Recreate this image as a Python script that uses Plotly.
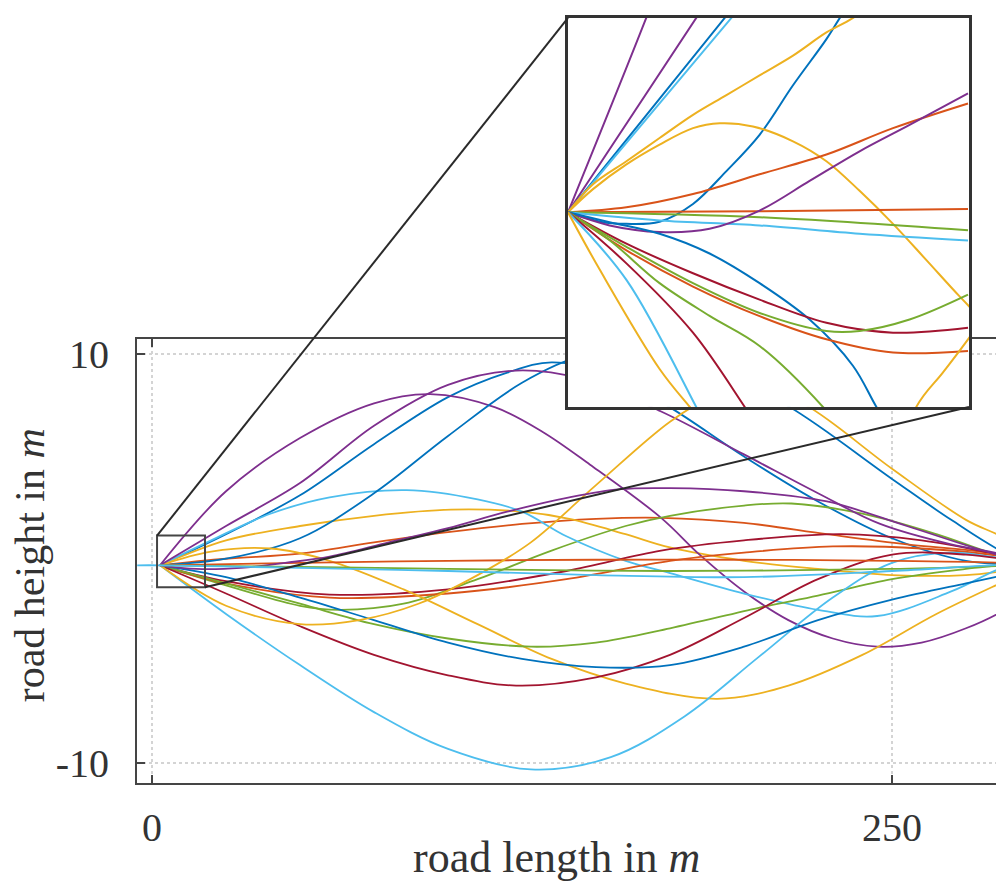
import plotly.graph_objects as go

# ---------------- colours (MATLAB default order) ----------------
BLUE = "#0072BD"
ORANGE = "#D95319"
YELLOW = "#EDB120"
PURPLE = "#7E2F8E"
GREEN = "#77AC30"
LIGHTBLUE = "#4DBEEE"
DARKRED = "#A2142F"

# ---------------- axis settings / labels ----------------
x_tick_vals = [0, 250]
x_tick_text = ["0", "250"]
y_tick_vals = [-10, 10]
y_tick_text = ["-10", "10"]
x_range = [-5.07, 287.84]
y_range = [-10.967, 10.76]
x_label = "road length in <i>m</i>"
y_label = "road height in <i>m</i>"

# zoom window (data coords of the small rectangle)
zoom_x = [1.7, 17.9]
zoom_y = [-1.39, 1.13]

# ---------------- main profiles (x in m, height in m) ----------------
purple1_x = [2.7, 25, 50, 75, 94, 116, 132, 148, 172, 185, 200, 215, 230, 245, 260, 275, 288, 300]
purple1_y = [-0.32, 3.3, 5.9, 7.6, 8.05, 7.4, 6.2, 4.6, 2.0, 0.2, -1.6, -3.0, -3.9, -4.3, -4.1, -3.4, -2.5, -1.2]

purple2_x = [2.7, 25, 50, 75, 100, 123, 145, 172, 200, 225, 246, 270, 288, 300]
purple2_y = [-0.32, 1.6, 3.7, 6.5, 8.5, 9.2, 8.8, 7.2, 5.1, 3.2, 1.7, 0.7, 0.2, -0.3]

purple3_x = [2.7, 15, 30, 45, 60, 80, 100, 120, 141, 158, 175, 200, 228, 255, 284, 300]
purple3_y = [-0.32, -0.5, -0.45, -0.2, 0.1, 0.8, 1.5, 2.3, 3.0, 3.4, 3.45, 3.3, 2.8, 1.6, 0.26, -0.3]

blue1_x = [2.7, 25, 50, 75, 100, 120, 135, 155, 175, 200, 225, 250, 275, 300]
blue1_y = [-0.32, 1.2, 3.1, 5.6, 7.9, 9.1, 9.6, 9.0, 7.4, 5.0, 2.8, 1.0, -0.1, -0.3]

blue2_x = [2.7, 25, 50, 75, 100, 125, 145, 165, 190, 215, 250, 270, 288, 300]
blue2_y = [-0.32, 0.0, 1.0, 3.2, 6.0, 8.6, 9.9, 10.1, 9.2, 7.45, 3.9, 1.9, 0.3, -0.3]

blue3_x = [2.7, 25, 50, 75, 100, 125, 150, 175, 200, 225, 250, 275, 288, 300]
blue3_y = [-0.32, -0.9, -1.9, -3.0, -4.1, -4.9, -5.3, -5.2, -4.3, -3.0, -2.0, -1.2, -0.8, -0.4]

lblue1_x = [2.7, 20, 40, 60, 86, 110, 125, 140, 160, 175, 200, 225, 245, 270, 288, 300]
lblue1_y = [-0.32, 0.9, 2.2, 3.0, 3.35, 2.9, 2.3, 1.1, -0.1, -0.7, -1.7, -2.5, -2.8, -1.6, -0.4, 0.0]

lblue2_x = [2.7, 25, 50, 75, 100, 128, 155, 180, 205, 230, 250, 270, 288, 300]
lblue2_y = [-0.32, -2.7, -5.2, -7.5, -9.3, -10.3, -9.7, -7.7, -4.8, -1.9, -0.2, 0.3, 0.0, -0.3]

lblue3_x = [-5, 2.7, 50, 100, 150, 200, 250, 288, 300]
lblue3_y = [-0.32, -0.32, -0.45, -0.6, -0.8, -0.9, -0.6, -0.3, -0.3]

yellow1_x = [2.7, 25, 50, 75, 101, 125, 141, 160, 175, 200, 225, 250, 275, 288, 300]
yellow1_y = [-0.32, 0.9, 1.6, 2.1, 2.4, 2.3, 1.95, 1.2, 0.55, -0.1, -0.5, -0.8, -0.8, -0.6, -0.3]

yellow2_x = [2.7, 20, 40, 60, 85, 110, 135, 160, 191, 215, 240, 265, 288, 300]
yellow2_y = [-0.32, 0.35, 0.5, -0.1, -1.5, -3.2, -4.9, -6.1, -6.85, -6.2, -4.7, -2.7, -1.1, -0.3]

yellow3_x = [2.7, 25, 50, 70, 90, 110, 128, 150, 175, 190, 203, 221, 250, 275, 288, 300]
yellow3_y = [-0.32, -2.3, -3.2, -3.0, -2.2, -0.8, 0.8, 3.6, 6.7, 8.0, 8.6, 7.5, 4.4, 1.9, 1.0, -0.3]

orange1_x = [2.7, 25, 50, 75, 100, 125, 150, 172, 200, 228, 255, 284, 300]
orange1_y = [-0.32, 0.0, 0.25, 0.8, 1.3, 1.7, 1.95, 2.0, 1.75, 1.2, 0.7, 0.26, -0.3]

orange2_x = [2.7, 25, 60, 100, 140, 175, 200, 230, 260, 288, 300]
orange2_y = [-0.32, -1.2, -1.9, -1.7, -1.0, -0.1, 0.3, 0.6, 0.5, 0.1, -0.3]

orange3_x = [2.7, 50, 100, 150, 200, 250, 288, 300]
orange3_y = [-0.32, -0.2, -0.1, -0.05, -0.05, -0.1, -0.2, -0.3]

dred1_x = [2.7, 25, 60, 100, 140, 172, 200, 233, 260, 284, 300]
dred1_y = [-0.32, -1.1, -1.75, -1.5, -0.6, 0.4, 0.9, 1.2, 0.9, 0.26, -0.3]

dred2_x = [2.7, 25, 50, 75, 100, 123, 150, 175, 200, 225, 250, 275, 300]
dred2_y = [-0.32, -1.7, -3.3, -4.7, -5.7, -6.2, -5.8, -4.7, -2.9, -1.0, 0.2, 0.2, -0.3]

green1_x = [2.7, 25, 50, 63, 85, 110, 135, 160, 175, 200, 216, 240, 265, 284, 300]
green1_y = [-0.32, -1.3, -2.3, -2.5, -2.2, -1.0, 0.4, 1.6, 2.1, 2.6, 2.7, 2.2, 1.2, 0.26, -0.3]

green2_x = [2.7, 25, 50, 75, 100, 128, 150, 175, 205, 225, 250, 275, 288, 300]
green2_y = [-0.32, -1.2, -2.2, -3.2, -3.9, -4.3, -4.1, -3.4, -2.4, -1.8, -1.0, -0.5, -0.3, -0.3]

green3_x = [2.7, 50, 100, 175, 250, 288, 300]
green3_y = [-0.32, -0.4, -0.5, -0.6, -0.5, -0.35, -0.3]

main_series = [
    (blue1_x, blue1_y, BLUE),
    (orange1_x, orange1_y, ORANGE),
    (yellow1_x, yellow1_y, YELLOW),
    (purple1_x, purple1_y, PURPLE),
    (green1_x, green1_y, GREEN),
    (lblue1_x, lblue1_y, LIGHTBLUE),
    (dred1_x, dred1_y, DARKRED),
    (blue2_x, blue2_y, BLUE),
    (orange2_x, orange2_y, ORANGE),
    (yellow2_x, yellow2_y, YELLOW),
    (purple2_x, purple2_y, PURPLE),
    (green2_x, green2_y, GREEN),
    (lblue2_x, lblue2_y, LIGHTBLUE),
    (dred2_x, dred2_y, DARKRED),
    (blue3_x, blue3_y, BLUE),
    (orange3_x, orange3_y, ORANGE),
    (yellow3_x, yellow3_y, YELLOW),
    (purple3_x, purple3_y, PURPLE),
    (green3_x, green3_y, GREEN),
    (lblue3_x, lblue3_y, LIGHTBLUE),
]

# ---------------- zoomed inset profiles (same units, zoom window) ----------------
in_purple1_x = [1.70, 4.86, 6.0]
in_purple1_y = [-0.129, 1.13, 1.61]
in_purple2_x = [1.70, 6.88, 8.5]
in_purple2_y = [-0.129, 1.13, 1.52]
in_blue1_x = [1.70, 8.03, 9.5]
in_blue1_y = [-0.129, 1.13, 1.42]
in_lblue1_x = [1.70, 8.30, 9.8]
in_lblue1_y = [-0.129, 1.13, 1.42]
in_blue2_x = [1.70, 3.0, 4.06, 5.40, 6.75, 8.10, 9.44, 10.79, 12.14, 12.68, 13.5]
in_blue2_y = [-0.129, -0.19, -0.204, -0.19, -0.075, 0.138, 0.373, 0.694, 0.993, 1.13, 1.33]
in_yellow1_x = [1.70, 2.71, 4.06, 5.40, 6.75, 8.10, 9.44, 10.79, 12.14, 13.21, 14.5]
in_yellow1_y = [-0.129, 0.053, 0.202, 0.352, 0.502, 0.630, 0.758, 0.886, 1.036, 1.13, 1.30]
in_yellow2_x = [1.70, 2.71, 4.06, 5.40, 6.75, 7.83, 9.17, 10.79, 12.14, 13.48, 14.83, 16.18, 17.52, 18.9]
in_yellow2_y = [-0.129, 0.021, 0.181, 0.309, 0.416, 0.448, 0.427, 0.331, 0.202, 0.010, -0.204, -0.439, -0.674, -0.9]
in_orange1_x = [1.70, 4.06, 6.75, 9.44, 12.14, 14.83, 17.86]
in_orange1_y = [-0.129, -0.097, -0.011, 0.117, 0.245, 0.416, 0.576]
in_purple3_x = [1.70, 3.38, 5.40, 7.42, 9.44, 11.46, 13.48, 15.50, 17.86]
in_purple3_y = [-0.129, -0.214, -0.257, -0.236, -0.118, 0.074, 0.266, 0.437, 0.641]
in_orange3_x = [1.70, 9.44, 17.86]
in_orange3_y = [-0.129, -0.123, -0.108]
in_green3_x = [1.70, 9.44, 17.86]
in_green3_y = [-0.129, -0.161, -0.246]
in_lblue3_x = [1.70, 5.40, 9.44, 13.48, 17.86]
in_lblue3_y = [-0.129, -0.182, -0.214, -0.268, -0.311]
in_blue3_x = [1.70, 3.38, 5.40, 7.42, 9.44, 11.46, 13.21, 14.16, 14.8]
in_blue3_y = [-0.129, -0.193, -0.268, -0.396, -0.588, -0.824, -1.123, -1.39, -1.55]
in_dred1_x = [1.70, 4.06, 6.75, 9.44, 12.14, 14.83, 17.86]
in_dred1_y = [-0.129, -0.332, -0.524, -0.695, -0.845, -0.909, -0.877]
in_green1_x = [1.70, 4.06, 6.75, 9.44, 12.14, 13.48, 15.50, 17.86]
in_green1_y = [-0.129, -0.353, -0.588, -0.781, -0.898, -0.898, -0.824, -0.663]
in_orange2_x = [1.70, 4.06, 6.75, 9.44, 12.14, 14.83, 17.86]
in_orange2_y = [-0.129, -0.375, -0.610, -0.802, -0.952, -1.037, -1.027]
in_green2_x = [1.70, 3.38, 5.40, 7.42, 9.44, 12.0, 12.8]
in_green2_y = [-0.129, -0.31, -0.588, -0.80, -0.995, -1.39, -1.55]
in_dred2_x = [1.70, 4.06, 6.75, 8.84, 9.5]
in_dred2_y = [-0.129, -0.460, -0.909, -1.39, -1.55]
in_lblue2_x = [1.70, 4.06, 6.88, 7.4]
in_lblue2_y = [-0.129, -0.567, -1.39, -1.55]
in_yellow3_x = [1.70, 2.98, 5.40, 6.62, 7.2]
in_yellow3_y = [-0.129, -0.50, -1.144, -1.39, -1.5]
in_yellow4_x = [14.2, 15.77, 16.85, 17.86, 18.5]
in_yellow4_y = [-2.1, -1.39, -1.166, -0.952, -0.8]

inset_series = [
    (in_purple1_x, in_purple1_y, PURPLE),
    (in_purple2_x, in_purple2_y, PURPLE),
    (in_blue1_x, in_blue1_y, BLUE),
    (in_lblue1_x, in_lblue1_y, LIGHTBLUE),
    (in_blue2_x, in_blue2_y, BLUE),
    (in_yellow1_x, in_yellow1_y, YELLOW),
    (in_yellow2_x, in_yellow2_y, YELLOW),
    (in_orange1_x, in_orange1_y, ORANGE),
    (in_orange3_x, in_orange3_y, ORANGE),
    (in_green3_x, in_green3_y, GREEN),
    (in_lblue3_x, in_lblue3_y, LIGHTBLUE),
    (in_purple3_x, in_purple3_y, PURPLE),
    (in_blue3_x, in_blue3_y, BLUE),
    (in_dred1_x, in_dred1_y, DARKRED),
    (in_green1_x, in_green1_y, GREEN),
    (in_orange2_x, in_orange2_y, ORANGE),
    (in_green2_x, in_green2_y, GREEN),
    (in_dred2_x, in_dred2_y, DARKRED),
    (in_lblue2_x, in_lblue2_y, LIGHTBLUE),
    (in_yellow3_x, in_yellow3_y, YELLOW),
    (in_yellow4_x, in_yellow4_y, YELLOW),
]

# ---------------- layout geometry ----------------
# the page body has an 8px margin, so the figure is 8px smaller and all
# positions below are page pixels shifted by that margin
OFF = 8
W, H = 1004 - OFF, 888 - OFF


def px_x(p):
    return (p - OFF) / W


def px_y(p):
    return 1 - (p - OFF) / H


main_dom_x = [px_x(137), 1.0]
main_dom_y = [px_y(785), px_y(336)]
inset_dom_x = [px_x(568), px_x(969)]
inset_dom_y = [px_y(405), px_y(12)]

FRAME = "#454545"
TEXT = "#333333"
FONT = "Liberation Serif"

fig = go.Figure()
for xs, ys, col in main_series:
    fig.add_trace(go.Scatter(x=xs, y=ys, mode="lines",
                             line=dict(color=col, width=1.8, shape="spline", smoothing=1.0),
                             xaxis="x", yaxis="y", hoverinfo="skip"))
for xs, ys, col in inset_series:
    fig.add_trace(go.Scatter(x=xs, y=ys, mode="lines",
                             line=dict(color=col, width=2.0, shape="spline", smoothing=1.0),
                             xaxis="x2", yaxis="y2", hoverinfo="skip"))


def to_paper_x(v):
    return main_dom_x[0] + (v - x_range[0]) / (x_range[1] - x_range[0]) * (main_dom_x[1] - main_dom_x[0])


def to_paper_y(v):
    return main_dom_y[0] + (v - y_range[0]) / (y_range[1] - y_range[0]) * (main_dom_y[1] - main_dom_y[0])


shapes = [
    dict(type="rect", xref="x", yref="y", x0=zoom_x[0], x1=zoom_x[1], y0=zoom_y[0], y1=zoom_y[1],
         line=dict(color=FRAME, width=2), layer="above"),
    dict(type="line", xref="paper", yref="paper",
         x0=to_paper_x(zoom_x[0]), y0=to_paper_y(zoom_y[1]), x1=inset_dom_x[0], y1=inset_dom_y[1],
         line=dict(color="#2a2a2a", width=2), layer="above"),
    dict(type="line", xref="paper", yref="paper",
         x0=to_paper_x(zoom_x[1]), y0=to_paper_y(zoom_y[0]), x1=inset_dom_x[1], y1=inset_dom_y[0],
         line=dict(color="#2a2a2a", width=2), layer="above"),
]

fig.update_layout(
    width=W, height=H,
    margin=dict(l=0, r=0, t=0, b=0),
    paper_bgcolor="white", plot_bgcolor="white",
    showlegend=False,
    font=dict(family=FONT, color=TEXT),
    xaxis=dict(domain=main_dom_x, range=x_range, tickmode="array", tickvals=x_tick_vals,
               ticktext=x_tick_text, ticks="inside", ticklen=8, tickwidth=1.5, tickcolor=FRAME,
               showline=True, linecolor=FRAME, linewidth=2, mirror="ticks",
               showgrid=True, gridcolor="#d4d4d4", griddash="dot", gridwidth=1.5,
               zeroline=False, tickfont=dict(family=FONT, size=40, color=TEXT),
               ticklabelstandoff=8, anchor="y"),
    yaxis=dict(domain=main_dom_y, range=y_range, tickmode="array", tickvals=y_tick_vals,
               ticktext=y_tick_text, ticks="inside", ticklen=8, tickwidth=1.5, tickcolor=FRAME,
               showline=True, linecolor=FRAME, linewidth=2, mirror=False,
               showgrid=True, gridcolor="#d4d4d4", griddash="dot", gridwidth=1.5,
               zeroline=False, tickfont=dict(family=FONT, size=40, color=TEXT),
               ticklabelstandoff=18, anchor="x"),
    xaxis2=dict(domain=inset_dom_x, range=zoom_x, showticklabels=False, ticks="",
                showgrid=False, zeroline=False, showline=True, mirror=True,
                linecolor="#333333", linewidth=2.5, anchor="y2"),
    yaxis2=dict(domain=inset_dom_y, range=zoom_y, showticklabels=False, ticks="",
                showgrid=False, zeroline=False, showline=True, mirror=True,
                linecolor="#333333", linewidth=2.5, anchor="x2"),
    shapes=shapes,
    annotations=[
        dict(text=x_label, xref="paper", yref="paper", x=px_x(556.5), y=px_y(860),
             xanchor="center", yanchor="middle", showarrow=False,
             font=dict(family=FONT, size=44, color=TEXT)),
        dict(text=y_label, xref="paper", yref="paper", x=px_x(30), y=px_y(565),
             xanchor="center", yanchor="middle", showarrow=False, textangle=-90,
             font=dict(family=FONT, size=42, color=TEXT)),
    ],
)

fig.write_html("out.html")
